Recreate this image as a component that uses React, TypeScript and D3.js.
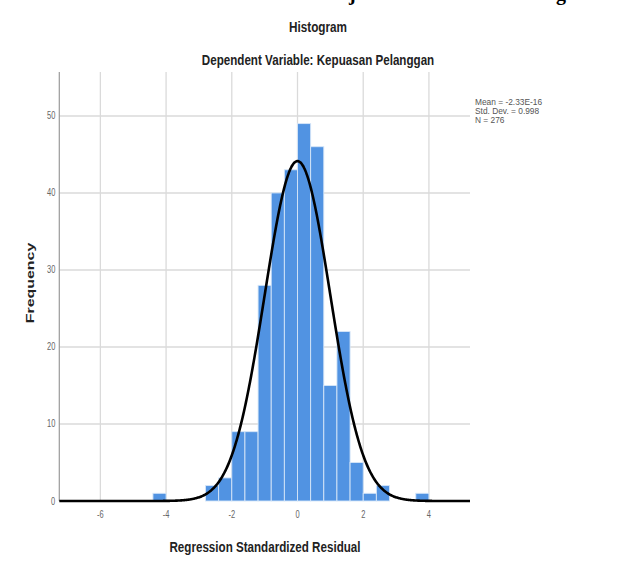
import React from "react";
import * as d3 from "d3";

const binLower = [-4.4, -4.0, -3.6, -3.2, -2.8, -2.4, -2.0, -1.6, -1.2, -0.8, -0.4, 0.0, 0.4, 0.8, 1.2, 1.6, 2.0, 2.4, 2.8, 3.2, 3.6];
const binCounts = [1, 0, 0, 0, 2, 3, 9, 9, 28, 40, 43, 49, 46, 15, 22, 5, 1, 2, 0, 0, 1];
const binWidth = 0.4;
const xTicks = [-6, -4, -2, 0, 2, 4];
const yTicks = [0, 10, 20, 30, 40, 50];
const meanVal = -2.33e-16;
const sdVal = 0.998;
const nVal = 276;
const legendLines = ["Mean = -2.33E-16", "Std. Dev. = 0.998", "N = 276"];

const W = 619, H = 567;
const plotL = 59.3, plotR = 470, plotT = 72, plotB = 501;
const FONT = "'Liberation Sans', Arial, sans-serif";

export default function App() {
  const x = d3.scaleLinear().domain([-7.25, 5.25]).range([plotL, plotR]);
  const y = d3.scaleLinear().domain([0, 55.7]).range([plotB, plotT]);

  const curvePts: [number, number][] = d3.range(-7.25, 5.2501, 0.02).map((v) => {
    const z = (v - meanVal) / sdVal;
    const f = (nVal * binWidth) / (sdVal * Math.sqrt(2 * Math.PI)) * Math.exp(-0.5 * z * z);
    return [v, f];
  });
  const line = d3.line<[number, number]>().x((d) => x(d[0])).y((d) => y(d[1])).curve(d3.curveBasis);

  return (
    <svg width={W} height={H} style={{ position: "absolute", left: 0, top: 0, background: "#fff" }}>
      <rect x={0} y={0} width={W} height={H} fill="#fff" />
      {/* cut-off text from the page above */}
      <text x={349} y={0} fontFamily="'Liberation Serif', serif" fontWeight="bold" fontSize={20} fill="#000">j</text>
      <text x={556} y={0} fontFamily="'Liberation Serif', serif" fontWeight="bold" fontSize={20} fill="#000">g</text>

      {/* titles */}
      <text transform={`translate(318,32) scale(0.84,1)`} textAnchor="middle" fontFamily={FONT} fontWeight="bold" fontSize={14} fill="#222">Histogram</text>
      <text transform={`translate(318,65) scale(0.83,1)`} textAnchor="middle" fontFamily={FONT} fontWeight="bold" fontSize={14} fill="#222">Dependent Variable: Kepuasan Pelanggan</text>

      {/* gridlines */}
      {yTicks.filter((t) => t > 0).map((t) => (
        <line key={"gy" + t} x1={plotL} x2={plotR} y1={y(t)} y2={y(t)} stroke="#dadada" strokeWidth={1.5} />
      ))}
      {xTicks.map((t) => (
        <line key={"gx" + t} x1={x(t)} x2={x(t)} y1={plotT} y2={plotB} stroke="#dadada" strokeWidth={1.3} />
      ))}
      <line x1={plotL} x2={plotL} y1={plotT} y2={plotB} stroke="#9a9a9a" strokeWidth={1.2} />

      {/* bars */}
      {binLower.map((b, i) =>
        binCounts[i] > 0 ? (
          <rect key={"b" + i} x={x(b)} y={y(binCounts[i])} width={x(b + binWidth) - x(b)} height={y(0) - y(binCounts[i])}
            fill="#5193e2" stroke="#d6e6f8" strokeWidth={0.9} />
        ) : null
      )}

      {/* normal curve */}
      <path d={line(curvePts) || ""} fill="none" stroke="#000" strokeWidth={2.6} />

      {/* tick labels */}
      {yTicks.map((t) => (
        <text key={"yt" + t} transform={`translate(${plotL - 4},${y(t) + 3.5}) scale(0.75,1)`} textAnchor="end" fontFamily={FONT} fontSize={10} fill="#666">{t}</text>
      ))}
      {xTicks.map((t) => (
        <text key={"xt" + t} transform={`translate(${x(t)},${plotB + 17}) scale(0.75,1)`} textAnchor="middle" fontFamily={FONT} fontSize={10} fill="#666">{t}</text>
      ))}

      {/* axis titles */}
      <text transform={`translate(34,283) rotate(-90) scale(1.45,1)`} textAnchor="middle" fontFamily={FONT} fontWeight="bold" fontSize={11} fill="#222">Frequency</text>
      <text transform={`translate(265,552) scale(0.83,1)`} textAnchor="middle" fontFamily={FONT} fontWeight="bold" fontSize={14} fill="#222">Regression Standardized Residual</text>

      {/* legend */}
      {legendLines.map((s, i) => (
        <text key={"lg" + i} transform={`translate(475,${104.5 + i * 9.3}) scale(0.88,1)`} fontFamily={FONT} fontSize={9.5} fill="#555">{s}</text>
      ))}
    </svg>
  );
}
